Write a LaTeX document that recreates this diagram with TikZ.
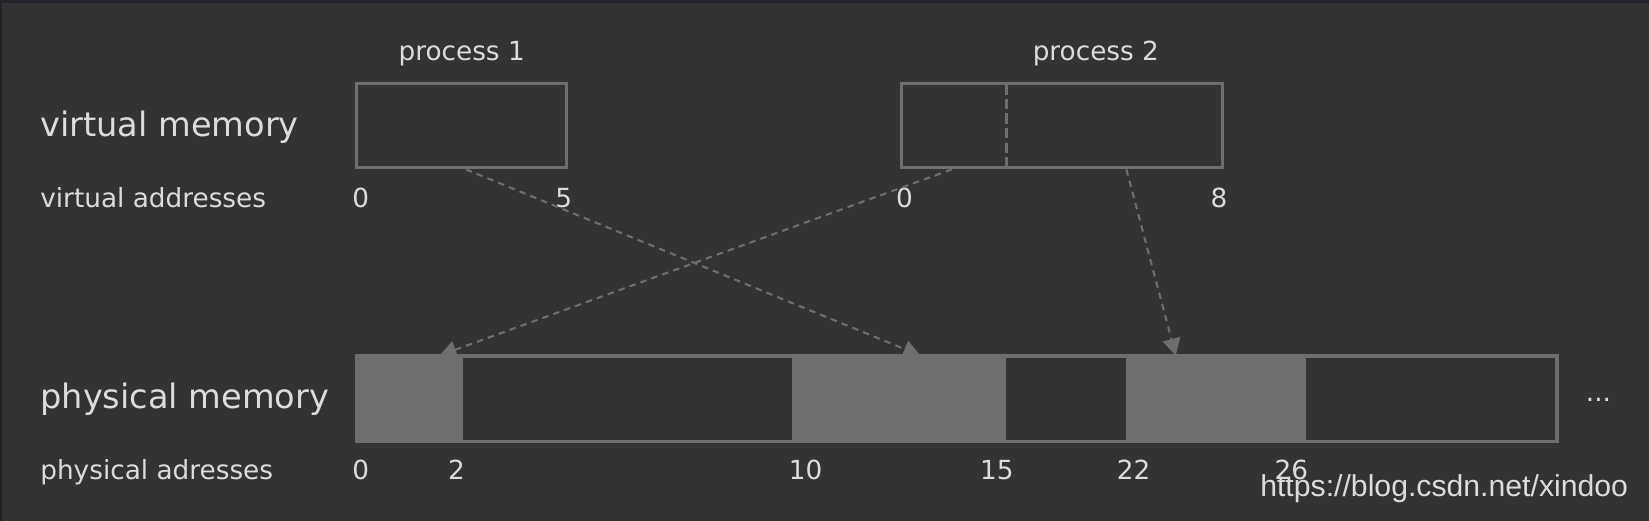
\documentclass[tikz,border=0pt]{standalone}
\usepackage{fontspec}
\setmainfont{DejaVu Sans}
\newfontfamily\markfont{Liberation Sans}
\usepackage{xcolor}
\usepackage{tikz}
\usetikzlibrary{arrows.meta}
\definecolor{bgdark}{HTML}{333333}
\definecolor{edgedark}{HTML}{202327}
\definecolor{memgray}{HTML}{6E6E6E}
\definecolor{txt}{HTML}{DCDCDC}
\tikzstyle{bigtitle} = [anchor=base west, inner sep=0pt, text=txt, font=\fontsize{16.8}{20}\selectfont]
\tikzstyle{smalltitle} = [anchor=base west, inner sep=0pt, text=txt, font=\fontsize{13.15}{16}\selectfont]
\tikzstyle{addr} = [anchor=base, inner sep=0pt, text=txt, font=\fontsize{13.15}{16}\selectfont]
\tikzstyle{vbox} = [rectangle, draw=memgray, line width=1.6pt, minimum height=42.1pt, inner sep=0pt]
\tikzstyle{used} = [rectangle, fill=memgray, inner sep=0pt, minimum height=44.2pt]
\tikzstyle{free} = [rectangle, fill=bgdark, inner sep=0pt, minimum height=41pt]
\tikzstyle{maparrow} = [draw=memgray, line width=1.05pt, dash pattern=on 3.2pt off 2.6pt, ->, >={Triangle[length=8.4pt,width=8.9pt]}, color=memgray]

\begin{document}
\begin{tikzpicture}[x=0.5258pt, y=-0.5258pt]
  \useasboundingbox (0,0) rectangle (1568,495.4);
  \fill [edgedark] (0,0) rectangle (1568,495.4);
  \fill [bgdark] (2,3) rectangle (1568,495.4);

  \node (vmem)  [bigtitle] at (38,130) {virtual memory};
  \node (vaddr) [smalltitle] at (38,197) {virtual addresses};
  \node (pmem)  [bigtitle] at (38,388) {physical memory};
  \node (paddr) [smalltitle] at (38,456) {physical adresses};

  \node (proc1) [vbox, minimum width=105.2pt] at (439,119.5) {};
  \node (proc2) [vbox, minimum width=160.4pt] at (1010,119.5) {};
  \node (lab1) [addr] at (439,58) {process 1};
  \node (lab2) [addr] at (1042,58) {process 2};
  \draw [memgray, line width=1.6pt, dash pattern=on 5.2pt off 2.1pt] (957,80) -- (957,159);

  \node (v0a) [addr] at (343,197) {0};
  \node (v5)  [addr] at (536,197) {5};
  \node (v0b) [addr] at (860,197) {0};
  \node (v8)  [addr] at (1159,197) {8};

  \coordinate (t1) at (875,338);
  \coordinate (t2) at (418,338);
  \coordinate (t3) at (1118,338);
  \draw [maparrow] ([xshift=2.1pt]proc1.south) -- (t1);
  \draw [maparrow] ([xshift=-55.2pt]proc2.south) -- (t2);
  \draw [maparrow] ([xshift=32.1pt]proc2.south) -- (t3);

  \node (bar)  [used, minimum width=601.6pt] at (910,379) {};
  \node (seg2) [free, minimum width=164.6pt] at (596.5,379) {};
  \node (seg4) [free, minimum width=59.9pt] at (1014,379) {};
  \node (seg6) [free, minimum width=124.6pt] at (1360.5,379) {};
  \node (more) [addr] at (1520,382) {...};

  \node (p0)  [addr] at (343,456) {0};
  \node (p2)  [addr] at (434,456) {2};
  \node (p10) [addr] at (766,456) {10};
  \node (p15) [addr] at (948,456) {15};
  \node (p22) [addr] at (1078,456) {22};
  \node (p26) [addr] at (1228,456) {26};

  \node (mark) [anchor=base west, inner sep=0pt, text=txt, font=\markfont\fontsize{15.1}{18}\selectfont] at (1198,472) {https://blog.csdn.net/xindoo};
\end{tikzpicture}
\end{document}
